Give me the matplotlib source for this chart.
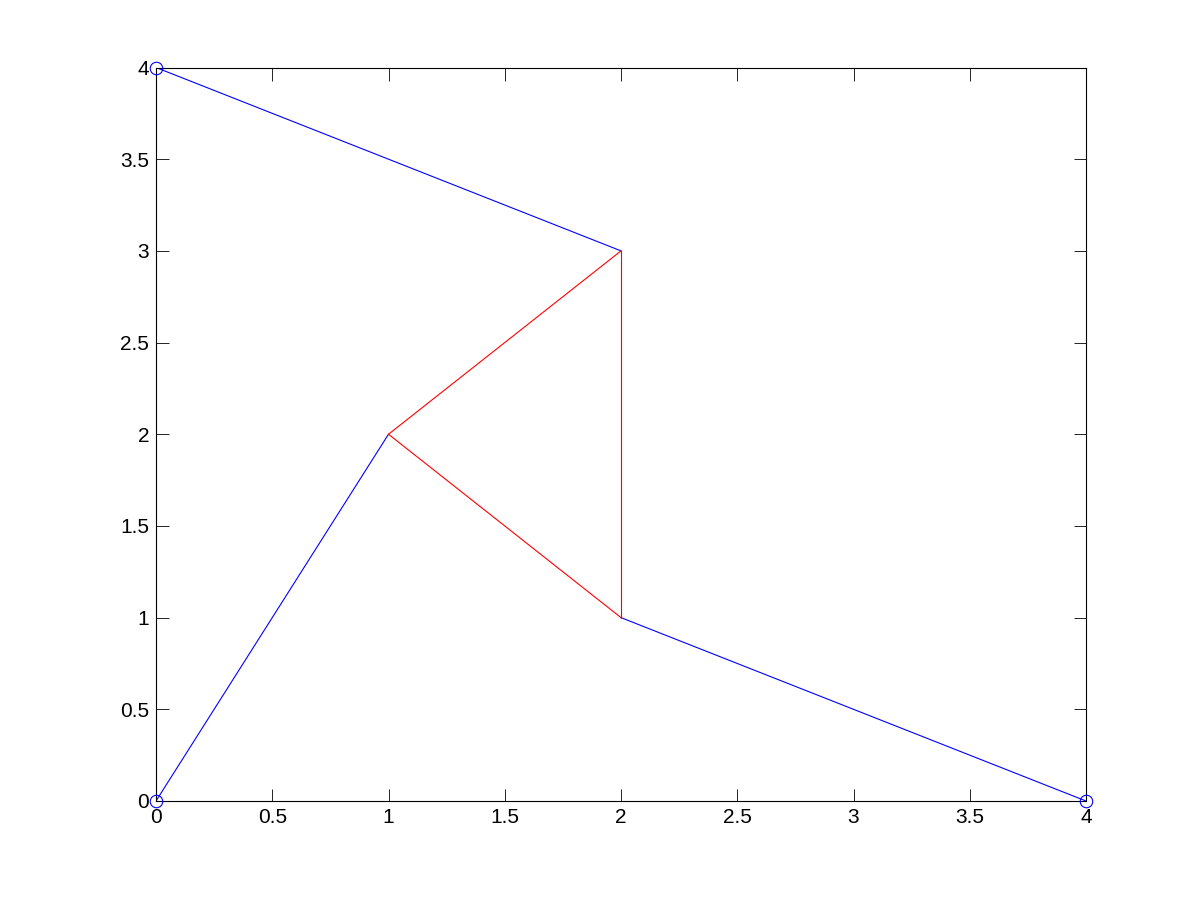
import matplotlib
matplotlib.use("Agg")
from matplotlib import pyplot as plt

# nodos de la estructura
nodos_x = [0, 1, 2, 2, 0, 4]
nodos_y = [0, 2, 3, 1, 4, 0]

# barras (indices de nodos)
barras_azules = [(0, 1), (4, 2), (3, 5)]
barras_rojas = [(1, 2), (1, 3), (3, 2)]

# apoyos
apoyos = [0, 4, 5]

plt.rcParams['font.family'] = ['Liberation Sans', 'DejaVu Sans']
fig = plt.figure(figsize=(12, 9), dpi=100)
ax = fig.add_axes([0.13, 0.11, 0.775, 0.815])

for a, b in barras_azules:
    ax.plot([nodos_x[a], nodos_x[b]], [nodos_y[a], nodos_y[b]], color='blue', lw=0.8)
for a, b in barras_rojas:
    ax.plot([nodos_x[a], nodos_x[b]], [nodos_y[a], nodos_y[b]], color='red', lw=0.8)

ax.plot([nodos_x[i] for i in apoyos], [nodos_y[i] for i in apoyos], 'o', ls='none',
        mfc='none', mec='blue', ms=9, mew=0.8, clip_on=False, zorder=5)

ax.set_xlim(0, 4)
ax.set_ylim(0, 4)
ax.set_xticks([0, 0.5, 1, 1.5, 2, 2.5, 3, 3.5, 4])
ax.set_yticks([0, 0.5, 1, 1.5, 2, 2.5, 3, 3.5, 4])
ax.set_xticklabels(['0', '0.5', '1', '1.5', '2', '2.5', '3', '3.5', '4'])
ax.set_yticklabels(['0', '0.5', '1', '1.5', '2', '2.5', '3', '3.5', '4'])
ax.tick_params(direction='in', top=True, right=True, length=9, width=0.6,
               labelsize=15, pad=5)
for s in ax.spines.values():
    s.set_linewidth(0.8)

fig.savefig('out.png')
